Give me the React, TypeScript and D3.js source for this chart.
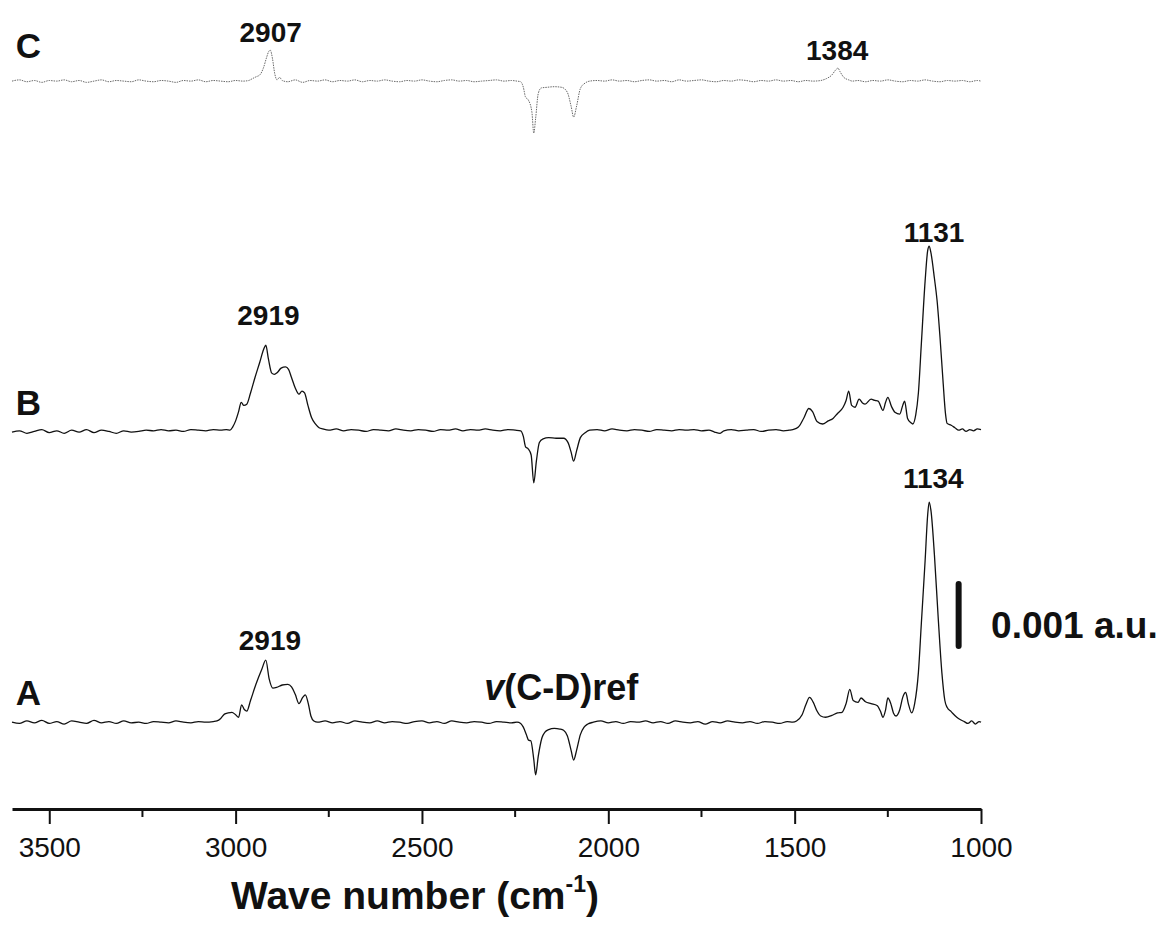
import React, { useRef, useEffect } from 'react'
import * as d3 from 'd3'

// intensities in units of 0.001 a.u., wavenumbers in cm-1
const specA: [number, number][] = [
  [3600, 0.0], [3580, -0.02], [3560, 0.02], [3540, -0.01], [3520, 0.03], [3500, -0.02], [3480, 0.01],
  [3460, -0.03], [3440, 0.02], [3420, 0.0], [3400, -0.02], [3380, 0.03], [3360, -0.01], [3340, 0.01],
  [3320, -0.02], [3300, 0.02], [3280, -0.01], [3260, 0.0], [3240, -0.02], [3220, 0.01], [3200, 0.0],
  [3180, -0.01], [3160, 0.02], [3140, 0.0], [3120, -0.01], [3100, 0.01], [3080, 0.0], [3060, 0.01],
  [3050, 0.02], [3040, 0.06], [3030, 0.13], [3020, 0.15], [3010, 0.16], [3000, 0.12], [2992, 0.08],
  [2984, 0.28], [2976, 0.2], [2970, 0.18], [2960, 0.35], [2945, 0.62], [2930, 0.85], [2919, 1.0],
  [2910, 0.7], [2900, 0.55], [2890, 0.56], [2875, 0.6], [2860, 0.61], [2850, 0.57], [2840, 0.45],
  [2830, 0.3], [2820, 0.4], [2813, 0.44], [2805, 0.3], [2798, 0.1], [2790, 0.02], [2780, 0.0],
  [2760, 0.02], [2740, -0.01], [2720, 0.01], [2700, -0.02], [2680, 0.02], [2660, 0.0], [2640, -0.01],
  [2620, 0.02], [2600, -0.01], [2580, 0.01], [2560, 0.0], [2540, -0.02], [2520, 0.01], [2500, 0.02],
  [2480, -0.01], [2460, 0.01], [2440, -0.02], [2420, 0.02], [2400, 0.0], [2380, -0.01], [2360, 0.01],
  [2340, 0.0], [2320, -0.02], [2300, 0.01], [2280, 0.0], [2260, -0.01], [2245, 0.0],
  [2235, -0.02], [2228, -0.08], [2220, -0.2], [2214, -0.29], [2208, -0.3], [2200, -0.6], [2195, -0.85],
  [2188, -0.55], [2178, -0.25], [2170, -0.16], [2160, -0.12], [2145, -0.1], [2130, -0.11], [2120, -0.13],
  [2110, -0.22], [2100, -0.45], [2093, -0.61], [2085, -0.45], [2075, -0.2], [2065, -0.08], [2055, -0.03],
  [2040, 0.0], [2020, 0.02], [2000, -0.01], [1980, 0.01], [1960, -0.02], [1940, 0.01], [1920, 0.0],
  [1900, 0.02], [1880, -0.01], [1860, 0.01], [1840, -0.02], [1820, 0.02], [1800, 0.0], [1780, -0.01],
  [1760, 0.01], [1740, -0.03], [1720, 0.01], [1700, -0.01], [1680, 0.02], [1660, 0.0], [1640, -0.01],
  [1620, 0.01], [1600, -0.02], [1580, 0.01], [1560, 0.0], [1540, -0.02], [1520, 0.01], [1505, 0.0],
  [1495, 0.02], [1480, 0.12], [1470, 0.28], [1460, 0.4], [1450, 0.32], [1440, 0.18], [1430, 0.1],
  [1417, 0.08], [1400, 0.11], [1385, 0.15], [1373, 0.16], [1362, 0.3], [1352, 0.53], [1343, 0.35],
  [1330, 0.32], [1322, 0.39], [1310, 0.33], [1295, 0.3], [1279, 0.27], [1270, 0.18], [1263, 0.08],
  [1256, 0.2], [1250, 0.39], [1242, 0.3], [1235, 0.15], [1228, 0.1], [1218, 0.2], [1210, 0.4],
  [1202, 0.48], [1195, 0.3], [1186, 0.15], [1178, 0.3], [1168, 0.8], [1160, 1.6], [1150, 2.6],
  [1143, 3.35], [1139, 3.55], [1134, 3.4], [1125, 2.7], [1115, 1.7], [1105, 0.8], [1097, 0.35],
  [1091, 0.24], [1080, 0.17], [1065, 0.08], [1055, 0.04], [1045, 0.01], [1035, -0.02], [1025, 0.02],
  [1015, -0.03], [1005, 0.01], [1000, 0.0],
]

const specB: [number, number][] = [
  [3600, -0.03], [3580, -0.01], [3560, -0.05], [3540, -0.02], [3520, 0.01], [3500, -0.04], [3480, -0.01],
  [3460, -0.05], [3440, 0.0], [3420, -0.03], [3400, 0.01], [3380, -0.04], [3360, 0.0], [3340, -0.02],
  [3320, -0.05], [3300, -0.01], [3280, -0.03], [3260, -0.02], [3240, 0.0], [3220, -0.01], [3200, 0.01],
  [3180, -0.01], [3160, 0.0], [3140, -0.02], [3120, 0.01], [3100, 0.0], [3080, -0.01], [3060, 0.01],
  [3040, 0.0], [3025, 0.01], [3015, 0.0], [3008, 0.05], [3000, 0.15], [2992, 0.3], [2985, 0.45],
  [2978, 0.4], [2970, 0.42], [2960, 0.6], [2948, 0.85], [2935, 1.1], [2925, 1.3], [2919, 1.37],
  [2912, 1.15], [2903, 0.92], [2896, 0.9], [2888, 0.93], [2878, 1.0], [2866, 1.02], [2858, 0.98],
  [2850, 0.85], [2840, 0.68], [2830, 0.58], [2822, 0.63], [2815, 0.6], [2806, 0.4], [2796, 0.2],
  [2786, 0.1], [2776, 0.04], [2766, 0.02], [2750, 0.0], [2730, 0.02], [2710, -0.01], [2690, 0.01],
  [2670, 0.0], [2650, -0.02], [2630, 0.01], [2610, 0.0], [2590, -0.01], [2570, 0.02], [2550, 0.0],
  [2530, -0.01], [2510, 0.01], [2490, 0.0], [2470, -0.02], [2450, 0.01], [2430, 0.0], [2410, 0.02],
  [2390, -0.01], [2370, 0.01], [2350, 0.0], [2330, 0.02], [2310, 0.0], [2290, -0.01], [2270, 0.01],
  [2250, 0.0], [2235, -0.01], [2228, -0.1], [2222, -0.27], [2215, -0.3], [2207, -0.4], [2200, -0.85],
  [2193, -0.5], [2185, -0.2], [2175, -0.14], [2160, -0.12], [2140, -0.13], [2120, -0.13], [2108, -0.2],
  [2100, -0.35], [2093, -0.5], [2085, -0.33], [2075, -0.12], [2062, -0.04], [2050, 0.0], [2030, 0.01],
  [2010, -0.01], [1990, 0.02], [1970, 0.0], [1950, -0.01], [1930, 0.01], [1910, 0.0], [1890, -0.02],
  [1870, 0.01], [1850, 0.0], [1830, -0.01], [1810, 0.01], [1790, 0.0], [1770, 0.01], [1750, -0.01],
  [1730, 0.0], [1715, -0.03], [1700, -0.05], [1690, -0.01], [1670, 0.01], [1650, -0.01], [1630, 0.0],
  [1610, 0.01], [1590, -0.02], [1570, 0.0], [1550, 0.01], [1530, -0.01], [1515, 0.0], [1505, 0.01],
  [1490, 0.05], [1475, 0.2], [1462, 0.35], [1452, 0.3], [1440, 0.14], [1425, 0.1], [1410, 0.15],
  [1397, 0.19], [1385, 0.27], [1370, 0.37], [1362, 0.48], [1355, 0.63], [1347, 0.4], [1338, 0.37],
  [1327, 0.5], [1318, 0.44], [1311, 0.42], [1295, 0.5], [1285, 0.48], [1276, 0.47], [1263, 0.32],
  [1256, 0.45], [1250, 0.53], [1240, 0.38], [1231, 0.29], [1218, 0.26], [1210, 0.4], [1205, 0.47],
  [1197, 0.19], [1188, 0.12], [1183, 0.1], [1175, 0.25], [1168, 0.6], [1160, 1.4], [1150, 2.4],
  [1143, 2.9], [1139, 2.97], [1134, 2.85], [1125, 2.45], [1118, 2.1], [1110, 1.5], [1102, 0.8],
  [1095, 0.25], [1091, 0.11], [1080, 0.08], [1070, 0.04], [1060, 0.0], [1050, 0.02], [1040, -0.02],
  [1030, 0.01], [1020, -0.01], [1010, 0.02], [1000, 0.01],
]

const specC: [number, number][] = [
  [3600, 0.0], [3580, 0.02], [3560, -0.01], [3540, 0.01], [3520, -0.02], [3500, 0.01], [3480, 0.0],
  [3460, 0.02], [3440, -0.01], [3420, 0.01], [3400, -0.02], [3380, 0.0], [3360, 0.02], [3340, -0.01],
  [3320, 0.01], [3300, 0.0], [3280, -0.01], [3260, 0.02], [3240, 0.0], [3220, -0.01], [3200, 0.01],
  [3180, 0.0], [3160, -0.02], [3140, 0.01], [3120, 0.0], [3100, 0.02], [3080, -0.01], [3060, 0.01],
  [3040, 0.0], [3020, -0.01], [3000, 0.01], [2980, 0.0], [2965, 0.01], [2955, 0.04], [2945, 0.07],
  [2935, 0.1], [2925, 0.22], [2917, 0.38], [2911, 0.48], [2907, 0.5], [2901, 0.36], [2895, 0.12],
  [2889, 0.02], [2882, 0.06], [2875, 0.01], [2860, -0.01], [2840, 0.02], [2820, -0.02], [2800, 0.01],
  [2780, 0.0], [2760, 0.02], [2740, -0.01], [2720, 0.01], [2700, 0.0], [2680, 0.02], [2660, -0.01],
  [2640, 0.01], [2620, 0.0], [2600, 0.02], [2580, 0.0], [2560, -0.01], [2540, 0.01], [2520, 0.0],
  [2500, 0.02], [2480, 0.0], [2460, -0.01], [2440, 0.01], [2420, 0.02], [2400, 0.0], [2380, 0.01],
  [2360, -0.01], [2340, 0.0], [2320, 0.01], [2300, 0.02], [2280, 0.0], [2260, 0.01], [2245, 0.0],
  [2235, -0.01], [2228, -0.1], [2222, -0.26], [2215, -0.3], [2205, -0.5], [2200, -0.84], [2195, -0.6],
  [2188, -0.2], [2180, -0.11], [2165, -0.1], [2145, -0.09], [2125, -0.1], [2110, -0.18], [2100, -0.4],
  [2093, -0.58], [2085, -0.4], [2075, -0.12], [2062, -0.03], [2050, 0.0], [2030, 0.01], [2010, 0.0],
  [1990, 0.02], [1970, 0.0], [1950, 0.01], [1930, -0.01], [1910, 0.01], [1890, 0.02], [1870, 0.0],
  [1850, 0.01], [1830, -0.01], [1810, 0.02], [1790, 0.0], [1770, 0.01], [1750, 0.02], [1730, 0.0],
  [1710, -0.01], [1690, 0.01], [1670, 0.0], [1650, 0.02], [1630, 0.01], [1610, -0.01], [1590, 0.01],
  [1570, 0.0], [1550, 0.02], [1530, 0.0], [1510, 0.01], [1490, -0.01], [1470, 0.01], [1450, 0.0],
  [1430, 0.01], [1415, 0.04], [1400, 0.1], [1390, 0.18], [1384, 0.21], [1378, 0.15], [1368, 0.06],
  [1355, 0.02], [1345, 0.0], [1330, 0.01], [1310, -0.01], [1290, 0.01], [1270, 0.0], [1250, 0.02],
  [1230, 0.0], [1210, -0.01], [1190, 0.01], [1170, 0.0], [1150, 0.02], [1130, 0.0], [1110, -0.01],
  [1090, 0.01], [1070, 0.0], [1050, 0.01], [1030, -0.01], [1010, 0.01], [1000, 0.0],
]

const seriesNames = ['A', 'B', 'C']
const seriesOffsets = [0, 4.71, 10.34]

const majorTicks = [3500, 3000, 2500, 2000, 1500, 1000]
const minorTicks = [3250, 2750, 2250, 1750, 1250]

// annotation anchors in data coordinates (wavenumber, level)
const peakLabels: { text: string; wn: number; level: number }[] = [
  { text: '2907', wn: 2906, level: 10.97 },
  { text: '1384', wn: 1386, level: 10.68 },
  { text: '2919', wn: 2912, level: 6.41 },
  { text: '1131', wn: 1126, level: 7.75 },
  { text: '1134', wn: 1128, level: 3.77 },
  { text: '2919', wn: 2908, level: 1.16 },
]
const seriesLabelPos: [number, number][] = [[3590, 0.27], [3590, 4.95], [3590, 10.72]]
const scaleBar = { wn: 1060, from: 1.23, to: 2.23, label: '0.001 a.u.', labelWn: 973, labelLevel: 1.36 }
const refLabel = { wn: 2333, level: 0.36 }

const W = 1167
const H = 925
const FONT = "'Liberation Sans', Arial, Helvetica, sans-serif"

const App: React.FC = () => {
  const svgRef = useRef<SVGSVGElement | null>(null)

  useEffect(() => {
    if (!svgRef.current) return
    const svg = d3.select(svgRef.current)
    svg.selectAll('*').remove()

    const x = d3.scaleLinear().domain([3600, 1000]).range([12, 981])
    const y = d3.scaleLinear().domain([-1.4, 11]).range([809, 40.2])

    // spectra
    const specs = [specA, specB, specC]
    specs.forEach((spec, i) => {
      const off = seriesOffsets[i]
      const line = d3.line<[number, number]>()
        .x(d => x(d[0]))
        .y(d => y(d[1] + off))
        .curve(d3.curveMonotoneX)
      const p = svg.append('path')
        .datum(spec)
        .attr('fill', 'none')
        .attr('stroke', i === 2 ? '#6a6a6a' : '#111')
        .attr('stroke-width', i === 2 ? 1 : 1.3)
        .attr('stroke-linejoin', 'round')
        .attr('d', line)
      if (i === 2) p.attr('stroke-dasharray', '1.5,1')
    })

    // x axis
    const axisG = svg.append('g').attr('transform', `translate(0,${y(-1.4)})`)
    axisG.call(
      d3.axisBottom(x).tickValues(majorTicks).tickSize(15).tickSizeOuter(0).tickFormat(d3.format('d'))
    )
    axisG.select('.domain').attr('stroke', '#111').attr('stroke-width', 3)
    axisG.selectAll('.tick line').attr('stroke', '#111').attr('stroke-width', 2)
    axisG.selectAll('.tick text')
      .attr('fill', '#111')
      .attr('y', 48)
      .attr('dy', 0)
      .style('font-family', FONT)
      .style('font-size', '28px')
    axisG.selectAll('.minor')
      .data(minorTicks)
      .enter().append('line')
      .attr('x1', d => x(d)).attr('x2', d => x(d))
      .attr('y1', 0).attr('y2', 8)
      .attr('stroke', '#111').attr('stroke-width', 2)

    // axis title
    const title = svg.append('text')
      .attr('x', 415)
      .attr('y', 909)
      .attr('text-anchor', 'middle')
      .style('font-family', FONT)
      .style('font-size', '39px')
      .style('font-weight', 'bold')
      .attr('fill', '#111')
    title.append('tspan').text('Wave number (cm')
    title.append('tspan').attr('dy', -17).style('font-size', '23px').text('-1')
    title.append('tspan').attr('dy', 17).text(')')

    // series letters
    seriesNames.forEach((n, i) => {
      svg.append('text')
        .attr('x', x(seriesLabelPos[i][0]))
        .attr('y', y(seriesLabelPos[i][1]))
        .style('font-family', FONT)
        .style('font-size', '35px')
        .style('font-weight', 'bold')
        .attr('fill', '#111')
        .text(n)
    })

    // peak labels
    svg.selectAll('.peak')
      .data(peakLabels)
      .enter().append('text')
      .attr('x', d => x(d.wn))
      .attr('y', d => y(d.level))
      .attr('text-anchor', 'middle')
      .style('font-family', FONT)
      .style('font-size', '28px')
      .style('font-weight', 'bold')
      .attr('fill', '#111')
      .text(d => d.text)

    // v(C-D)ref
    const ref = svg.append('text')
      .attr('x', x(refLabel.wn))
      .attr('y', y(refLabel.level))
      .style('font-family', FONT)
      .style('font-size', '36px')
      .style('font-weight', 'bold')
      .attr('fill', '#111')
    ref.append('tspan').style('font-style', 'italic').text('v')
    ref.append('tspan').text('(C-D)ref')

    // scale bar
    svg.append('line')
      .attr('x1', x(scaleBar.wn)).attr('x2', x(scaleBar.wn))
      .attr('y1', y(scaleBar.from)).attr('y2', y(scaleBar.to))
      .attr('stroke', '#111')
      .attr('stroke-width', 6)
      .attr('stroke-linecap', 'round')
    svg.append('text')
      .attr('x', x(scaleBar.labelWn))
      .attr('y', y(scaleBar.labelLevel))
      .style('font-family', FONT)
      .style('font-size', '37px')
      .style('font-weight', 'bold')
      .attr('fill', '#111')
      .text(scaleBar.label)
  }, [])

  return (
    <svg
      ref={svgRef}
      width={W}
      height={H}
      style={{ position: 'absolute', left: 0, top: 0, background: '#fff' }}
    />
  )
}

export default App
